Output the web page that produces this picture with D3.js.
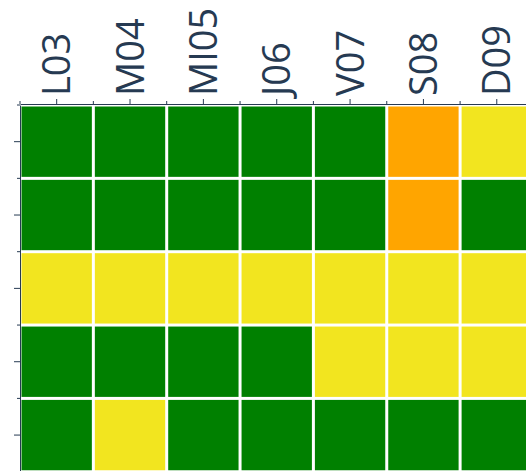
<html>
  <head>
    <meta charset="utf-8">
    <script src="https://d3js.org/d3.v7.min.js"></script>
    <style type="text/css">
      body {
        margin: 0;
        padding: 0;
        background: #fff;
        overflow: hidden;
      }
    </style>
  </head>
  <body>
    <svg id="chart" width="526" height="471"></svg>

    <script>
      /* Data */
      const days = ['L03', 'M04', 'MI05', 'J06', 'V07', 'S08', 'D09']
      const rows = ['r1', 'r2', 'r3', 'r4', 'r5']
      // status per row, one entry per day
      const row1 = ['ok', 'ok', 'ok', 'ok', 'ok', 'alert', 'warn']
      const row2 = ['ok', 'ok', 'ok', 'ok', 'ok', 'alert', 'ok']
      const row3 = ['warn', 'warn', 'warn', 'warn', 'warn', 'warn', 'warn']
      const row4 = ['ok', 'ok', 'ok', 'ok', 'warn', 'warn', 'warn']
      const row5 = ['ok', 'warn', 'ok', 'ok', 'ok', 'ok', 'ok']
      const statuses = ['ok', 'warn', 'alert']
      const statusColors = ['#008000', '#f2e51f', '#ffa500']

      const grid = [row1, row2, row3, row4, row5]
      const cells = []
      grid.forEach((r, i) => r.forEach((s, j) => cells.push({ row: rows[i], day: days[j], status: s })))

      /* Layout */
      const marginLeft = 20
      const marginTop = 105
      const cell = 73.35
      const ink = '#263a52'

      const x = d3.scaleBand().domain(days).range([marginLeft, marginLeft + cell * days.length])
      const y = d3.scaleBand().domain(rows).range([marginTop, marginTop + cell * rows.length])
      const color = d3.scaleOrdinal().domain(statuses).range(statusColors)

      const svg = d3.select('#chart')

      svg.append('g')
        .selectAll('rect')
        .data(cells)
        .join('rect')
          .attr('x', d => x(d.day) + 1.5)
          .attr('y', d => y(d.row) + 1.5)
          .attr('width', x.bandwidth() - 3)
          .attr('height', y.bandwidth() - 3)
          .style('fill', d => color(d.status))

      /* Axes */
      const xAxis = svg.append('g')
        .attr('transform', `translate(0,${marginTop - 1})`)
        .call(d3.axisTop(x).tickSize(5).tickSizeOuter(0))

      xAxis.selectAll('.tick text')
        .attr('transform', 'rotate(-90)')
        .attr('x', 8)
        .attr('y', 0)
        .attr('dy', '0.36em')
        .attr('text-anchor', 'start')
        .style('font-family', "'Open Sans', sans-serif")
        .style('font-size', '38px')
        .style('fill', ink)

      const yAxis = svg.append('g')
        .attr('transform', `translate(${marginLeft},0)`)
        .call(d3.axisLeft(y).tickSize(6).tickSizeOuter(0).tickFormat(''))

      svg.selectAll('.domain, .tick line').style('stroke', ink)

      // small ticks on cell borders
      const xEdges = days.map(d => x(d)).concat([x.range()[1]])
      const yEdges = rows.map(d => y(d)).concat([y.range()[1]])

      svg.append('g')
        .selectAll('line')
        .data(xEdges)
        .join('line')
          .attr('x1', d => d).attr('x2', d => d)
          .attr('y1', marginTop - 4).attr('y2', marginTop - 1)
          .style('stroke', ink)

      svg.append('g')
        .selectAll('line')
        .data(yEdges)
        .join('line')
          .attr('x1', marginLeft - 3).attr('x2', marginLeft)
          .attr('y1', d => d).attr('y2', d => d)
          .style('stroke', ink)
    </script>
  </body>
</html>
